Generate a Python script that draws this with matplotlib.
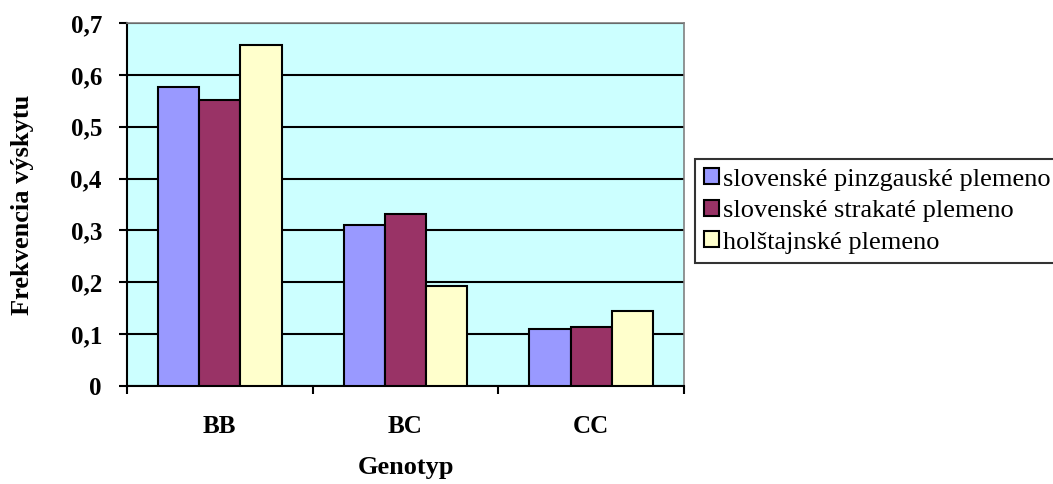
import matplotlib.pyplot as plt
import numpy as np

genotypes = ["BB", "BC", "CC"]
series_names = ["slovenské pinzgauské plemeno",
                "slovenské strakaté plemeno",
                "holštajnské plemeno"]
pinzgau = [0.577, 0.310, 0.109]
strakate = [0.552, 0.332, 0.113]
holstein = [0.658, 0.192, 0.145]
yticks = [0, 0.1, 0.2, 0.3, 0.4, 0.5, 0.6, 0.7]
ytick_labels = ["0", "0,1", "0,2", "0,3", "0,4", "0,5", "0,6", "0,7"]

colors = ["#9999FF", "#993366", "#FFFFCC"]

plt.rcParams['font.family'] = ['Liberation Serif', 'DejaVu Serif']

fig = plt.figure(figsize=(10.53, 4.84), dpi=100)
ax = fig.add_axes([0.1206, 0.2025, 0.5290, 0.7500])
ax.set_facecolor("#CCFFFF")

x = np.arange(len(genotypes))
w = 0.222
for i, (vals, name) in enumerate(zip([pinzgau, strakate, holstein], series_names)):
    ax.bar(x + (i - 1) * w, vals, w, color=colors[i], edgecolor="black",
           linewidth=1.5, label=name, zorder=3)

ax.set_xlim(-0.5, 2.5)
ax.set_ylim(0, 0.7)
ax.set_yticks(yticks)
ax.set_yticklabels(ytick_labels, fontsize=18, fontweight="bold")
ax.yaxis.grid(True, color="black", linewidth=1.5, zorder=1)
ax.set_axisbelow(True)

ax.set_xticks(x)
ax.set_xticklabels(genotypes, fontsize=18, fontweight="bold")
ax.tick_params(axis="x", which="major", length=0, pad=21)
ax.set_xticks(np.arange(-0.5, 3, 1), minor=True)
ax.tick_params(axis="x", which="minor", length=6, width=1.5, direction="out")
ax.tick_params(axis="y", length=6, width=1.5, direction="out", pad=12)

for s in ["left", "bottom"]:
    ax.spines[s].set_color("black")
    ax.spines[s].set_linewidth(1.5)
for s in ["top", "right"]:
    ax.spines[s].set_color("#808080")
    ax.spines[s].set_linewidth(1.2)

ax.set_xlabel("Genotyp", fontsize=19, fontweight="bold", labelpad=13)
ax.set_ylabel("Frekvencia výskytu", fontsize=19, fontweight="bold", labelpad=26)

leg = fig.legend(loc="center left", bbox_to_anchor=(0.660, 0.564), fontsize=19,
                 frameon=True, fancybox=False, edgecolor="black",
                 handlelength=0.55, handleheight=0.55, handletextpad=0.15,
                 borderpad=0.35, labelspacing=0.35, borderaxespad=0)
leg.get_frame().set_linewidth(1.5)

fig.savefig("out.png", dpi=100)
